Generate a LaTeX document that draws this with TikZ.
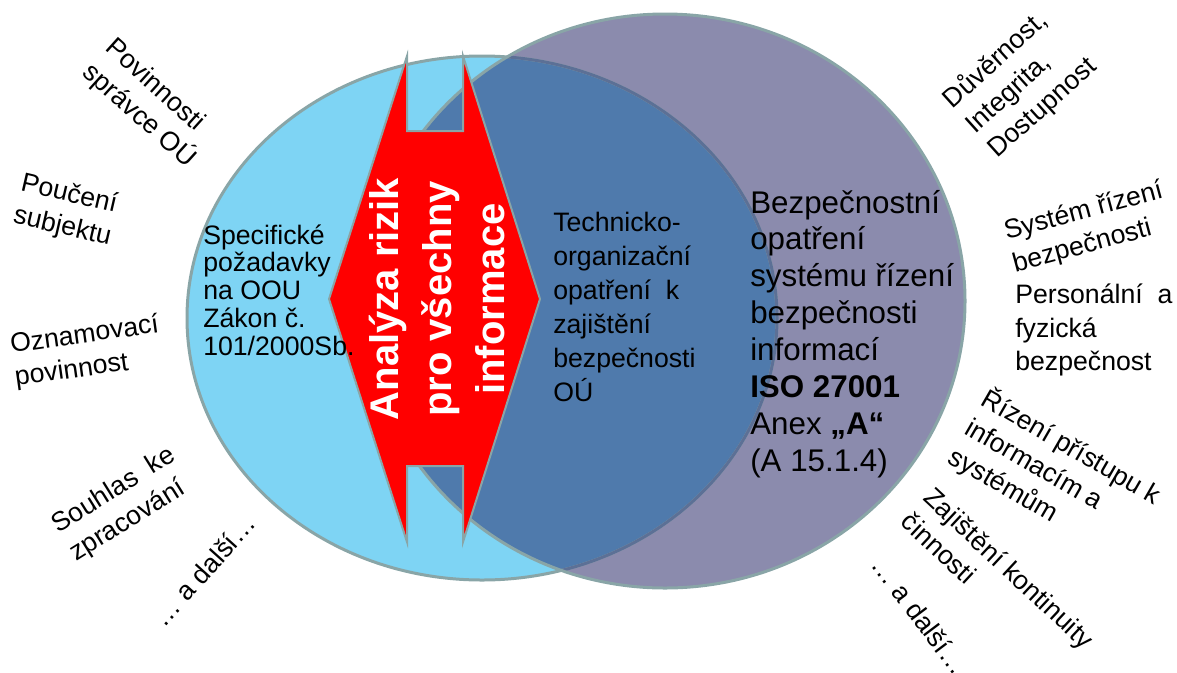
\documentclass[tikz,border=0pt]{standalone}
\usepackage{fontspec}
\setmainfont{Liberation Sans}
\definecolor{lblue}{RGB}{126,212,244}
\definecolor{rpurple}{RGB}{139,139,173}
\definecolor{ovl}{RGB}{79,122,172}
\definecolor{outl}{RGB}{137,165,167}
\definecolor{innerl}{RGB}{92,112,150}
\begin{document}
\begin{tikzpicture}[x=0.75pt,y=-0.75pt,
  lbl/.style={font=\fontsize{20}{25}\selectfont, align=left, inner sep=0pt},
  ltext/.style={font=\fontsize{20}{20.8}\selectfont, align=left, inner sep=0pt, anchor=west},
  mtext/.style={font=\fontsize{20}{25.5}\selectfont, align=left, inner sep=0pt, anchor=west},
  rtext/.style={font=\fontsize{23.5}{27.7}\selectfont, align=left, inner sep=0pt, anchor=west},
  redtxt/.style={font=\fontsize{30}{40}\selectfont\bfseries, text=white, align=center, inner sep=0pt},
  ring/.style={draw=outl, line width=2.25pt}]
\useasboundingbox (0,0) rectangle (1177,672);
% circles
\fill[lblue] (482,318) ellipse [x radius=295, y radius=262];
\fill[rpurple] (665,301) ellipse [x radius=300, y radius=287];
\begin{scope}
  \clip (482,318) ellipse [x radius=295, y radius=262];
  \fill[ovl] (665,301) ellipse [x radius=300, y radius=287];
\end{scope}
\draw[ring] (482,318) ellipse [x radius=295, y radius=262];
\begin{scope}
  \clip (665,301) ellipse [x radius=300, y radius=287];
  \draw[draw=innerl, line width=2.25pt] (482,318) ellipse [x radius=295, y radius=262];
\end{scope}
\draw[ring] (665,301) ellipse [x radius=300, y radius=287];
% red double arrow
\draw[fill=red, draw=outl, line width=1.5pt]
  (407,56) -- (407,131) -- (463,131) -- (463,56) -- (540,299) -- (463,542)
  -- (463,466) -- (407,466) -- (407,542) -- (329,299) -- cycle;
\node[redtxt, rotate=90] (anal) at (437,299) {Analýza rizik\\pro všechny\\informace};
% inner texts
\node[ltext] (spec) at (203,290) {Specifické\\požadavky\\na OOU\\Zákon č.\\101/2000Sb.};
\node[mtext] (tech) at (553,307) {Technicko-\\organizační\\opatření\ \ k\\zajištění\\bezpečnosti\\OÚ};
\node[rtext] (bezp) at (750,334) {Bezpečnostní\\opatření\\systému řízení\\bezpečnosti\\informací\\\textbf{ISO 27001}\\Anex \textbf{„A“}\\(A 15.1.4)};
% outer labels left
\node[lbl, rotate=-42] (povi) at (150,104) {Povinnosti\\správce OÚ};
\node[lbl, rotate=-13] (pouc) at (66,211) {Poučení\\subjektu};
\node[lbl, rotate=8] (ozna) at (87,352) {Oznamovací\\povinnost};
\node[lbl, rotate=32] (souh) at (123,505) {Souhlas\ \ ke\\zpracování};
\node[lbl, rotate=48] (dalsiL) at (204,570) {… a další…};
% outer labels right
\node[lbl, rotate=42] (duve) at (1020,83) {Důvěrnost,\\Integrita,\\Dostupnost};
\node[lbl, rotate=15] (syst) at (1088,228) {Systém řízení\\bezpečnosti};
\node[lbl, anchor=west] (pers) at (1015,330) {Personální\ \ a\\fyzická\\bezpečnost};
\node[lbl, rotate=-30] (rize) at (1055,476) {Řízení přístupu k\\informacím a\\systémům};
\node[lbl, rotate=-43] (zaji) at (998,580) {Zajištění kontinuity\\činnosti};
\node[lbl, rotate=-53] (dalsiR) at (920,615) {… a další…};
\end{tikzpicture}
\end{document}
